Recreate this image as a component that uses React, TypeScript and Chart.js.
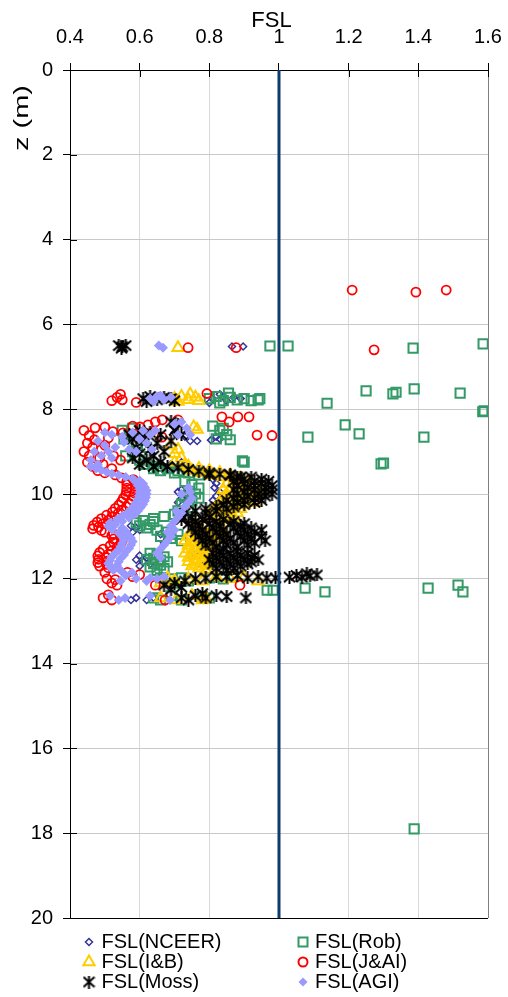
import React, { useEffect, useRef } from "react";
import { Chart, registerables } from "chart.js";
Chart.register(...registerables);

// ---------- axis ticks ----------
const xTicks = [0.4, 0.6, 0.8, 1, 1.2, 1.4, 1.6];
const xTickLabels = ["0.4", "0.6", "0.8", "1", "1.2", "1.4", "1.6"];
const zTicks = [0, 2, 4, 6, 8, 10, 12, 14, 16, 18, 20];
const zTickLabels = ["0", "2", "4", "6", "8", "10", "12", "14", "16", "18", "20"];
const xTitle = "FSL";
const zTitle = "z (m)";

// ---------- series names ----------
const seriesNames = ["FSL(NCEER)", "FSL(Rob)", "FSL(I&B)", "FSL(J&AI)", "FSL(Moss)", "FSL(AGI)"];

// ---------- limit line FSL = 1 ----------
const limitLine = [[1, 0], [1, 20]];

// ---------- series values [FSL, z] ----------
const nceer = [
  [0.865, 6.52], [0.897, 6.52], [0.81, 7.75], [0.83, 7.65], [0.85, 7.8], [0.87, 7.72], [0.89, 7.75], [0.8, 7.85], [0.84, 7.7],
  [0.805, 8.73], [0.83, 8.7], [0.82, 8.65], [0.7, 8.55], [0.73, 8.65], [0.745, 8.75], [0.765, 8.75],
  [0.69, 9.3], [0.71, 9.35], [0.73, 9.4], [0.72, 9.25], [0.67, 9.45],
  [0.81, 9.65], [0.82, 9.75], [0.815, 9.85], [0.83, 9.95], [0.82, 10.05], [0.81, 10.15], [0.825, 10.25], [0.815, 10.35],
  [0.71, 9.95], [0.73, 10.0], [0.75, 10.05], [0.72, 10.1], [0.74, 10.15], [0.71, 10.2], [0.73, 10.3], [0.72, 9.9],
  [0.575, 10.75], [0.59, 10.8], [0.6, 10.85], [0.58, 10.9], [0.66, 10.95], [0.68, 11.05], [0.67, 11.15],
  [0.6, 11.45], [0.62, 11.5], [0.61, 11.6], [0.6, 11.7], [0.59, 11.55], [0.63, 11.65],
  [0.76, 11.3], [0.77, 11.45], [0.76, 11.6], [0.78, 11.7], [0.75, 11.5],
  [0.59, 12.45], [0.62, 12.5], [0.64, 12.45], [0.575, 12.5],
];

const rob = [
  [0.974, 6.51], [1.026, 6.51], [1.385, 6.56], [1.586, 6.46], [1.25, 7.57], [1.336, 7.6], [1.327, 7.64], [1.388, 7.52],
  [1.52, 7.62], [1.138, 7.86], [1.589, 8.04], [1.585, 8.06], [1.19, 8.37], [1.23, 8.58], [1.083, 8.66], [1.416, 8.66],
  [1.3, 9.27], [1.293, 9.29], [0.966, 12.27], [0.983, 12.27], [1.075, 12.22], [1.132, 12.31], [1.428, 12.22],
  [1.514, 12.15], [1.528, 12.31], [1.388, 17.9],
  [0.8, 7.75], [0.82, 7.7], [0.84, 7.8], [0.86, 7.72], [0.88, 7.78], [0.9, 7.75], [0.92, 7.8], [0.94, 7.78], [0.855, 7.62], [0.83, 7.85], [0.945, 7.75],
  [0.81, 8.4], [0.83, 8.5], [0.85, 8.6], [0.82, 8.7], [0.84, 8.45], [0.86, 8.72], [0.9, 9.25], [0.895, 9.22],
  [0.55, 8.5], [0.57, 8.6], [0.59, 8.8], [0.58, 9.0], [0.6, 9.2], [0.56, 9.1], [0.58, 8.45], [0.62, 8.9], [0.555, 8.7], [0.61, 9.3],
  [0.62, 9.3], [0.65, 9.35], [0.68, 9.4], [0.71, 9.45], [0.74, 9.5], [0.77, 9.55], [0.66, 9.45], [0.7, 9.5], [0.64, 9.4],
  [0.73, 9.7], [0.75, 9.78], [0.77, 9.86], [0.74, 9.94], [0.76, 10.0], [0.73, 10.08], [0.75, 10.16], [0.72, 10.24], [0.74, 10.32], [0.71, 10.4], [0.77, 10.1],
  [0.7, 10.48], [0.67, 10.53], [0.64, 10.58], [0.61, 10.63], [0.59, 10.68], [0.6, 10.75], [0.63, 10.72], [0.62, 10.8], [0.65, 10.85],
  [0.68, 10.9], [0.71, 10.95], [0.66, 11.0], [0.69, 11.05], [0.72, 11.1], [0.64, 10.65],
  [0.63, 11.4], [0.65, 11.44], [0.67, 11.48], [0.64, 11.52], [0.66, 11.56], [0.68, 11.6], [0.64, 11.64], [0.66, 11.68], [0.63, 11.72], [0.67, 11.76], [0.65, 11.8], [0.62, 11.55],
  [0.66, 11.98], [0.69, 12.0], [0.72, 11.98], [0.7, 12.1], [0.74, 12.05], [0.8, 11.98], [0.84, 12.0], [0.87, 11.95],
  [0.64, 12.45], [0.69, 12.4], [0.78, 12.42], [0.8, 12.45], [0.72, 12.5], [0.66, 12.5],
];

const ib = [
  [0.71, 6.55],
  [0.7, 7.75], [0.72, 7.7], [0.74, 7.78], [0.76, 7.72], [0.77, 7.8], [0.71, 7.82], [0.745, 7.65],
  [0.755, 8.42], [0.765, 8.48],
  [0.69, 8.85], [0.71, 8.95], [0.7, 9.05], [0.72, 9.15], [0.7, 9.25], [0.73, 9.3],
  [0.74, 9.35], [0.77, 9.4], [0.8, 9.45], [0.83, 9.5], [0.86, 9.55], [0.89, 9.62], [0.91, 9.7], [0.78, 9.5], [0.81, 9.55], [0.84, 9.6], [0.75, 9.45],
  [0.87, 9.7], [0.85, 9.75], [0.9, 9.75], [0.88, 9.8], [0.93, 9.8], [0.86, 9.85], [0.91, 9.85], [0.95, 9.85], [0.84, 9.9], [0.89, 9.9],
  [0.87, 9.95], [0.92, 9.95], [0.85, 10.0], [0.9, 10.0], [0.94, 10.0], [0.88, 10.05], [0.93, 10.05], [0.84, 10.1], [0.89, 10.1],
  [0.86, 10.15], [0.91, 10.15], [0.83, 10.2], [0.88, 10.2], [0.93, 10.2], [0.85, 10.25], [0.9, 10.25], [0.82, 10.3], [0.87, 10.3],
  [0.84, 10.35], [0.89, 10.35], [0.81, 10.4], [0.86, 10.4], [0.83, 10.45], [0.88, 10.45], [0.8, 10.5], [0.85, 10.5], [0.82, 10.55], [0.87, 10.55], [0.84, 10.6],
  [0.76, 10.7], [0.79, 10.75], [0.76, 10.8], [0.82, 10.8], [0.78, 10.85], [0.84, 10.85], [0.75, 10.9], [0.81, 10.9], [0.77, 10.95], [0.83, 10.95],
  [0.74, 11.0], [0.8, 11.0], [0.76, 11.05], [0.82, 11.05], [0.73, 11.1], [0.79, 11.1], [0.75, 11.15], [0.81, 11.15], [0.74, 11.2], [0.78, 11.2],
  [0.76, 11.25], [0.8, 11.25], [0.74, 11.3], [0.78, 11.3], [0.76, 11.35], [0.8, 11.35], [0.73, 11.4], [0.77, 11.4], [0.75, 11.45], [0.79, 11.45],
  [0.74, 11.5], [0.78, 11.5], [0.76, 11.55], [0.8, 11.55], [0.74, 11.6], [0.78, 11.6], [0.76, 11.65], [0.8, 11.65], [0.75, 11.7], [0.79, 11.7], [0.77, 11.75], [0.79, 11.8],
  [0.66, 12.1], [0.7, 12.05], [0.74, 12.0], [0.78, 12.05], [0.82, 11.95], [0.86, 12.0], [0.9, 11.95], [0.94, 12.05], [0.68, 11.98],
  [0.66, 12.45], [0.705, 12.5], [0.75, 12.4], [0.78, 12.5], [0.79, 12.45],
];

const jai = [
  [1.21, 5.19], [1.393, 5.24], [1.48, 5.19], [1.273, 6.6], [0.739, 6.55], [0.877, 6.55],
  [0.52, 7.8], [0.535, 7.72], [0.55, 7.78], [0.545, 7.65], [0.59, 7.84], [0.793, 7.63],
  [0.836, 8.18], [0.857, 8.3], [0.882, 8.18], [0.914, 8.18], [0.937, 8.61], [0.98, 8.62],
  [0.472, 8.44], [0.5, 8.42], [0.523, 8.53], [0.552, 8.56], [0.601, 8.42], [0.624, 8.37], [0.665, 8.25], [0.71, 8.25], [0.664, 8.66], [0.645, 8.3], [0.58, 8.4],
  [0.44, 8.5], [0.455, 8.62], [0.47, 8.72], [0.45, 8.8], [0.465, 8.9], [0.49, 8.95], [0.44, 9.0], [0.455, 9.1], [0.485, 9.15], [0.45, 9.25],
  [0.465, 9.35], [0.495, 9.3], [0.51, 8.68], [0.525, 9.1], [0.545, 9.2], [0.5, 8.85], [0.52, 9.4], [0.48, 9.45], [0.5, 9.5], [0.53, 9.55],
  [0.548, 9.62], [0.582, 9.66], [0.563, 9.7], [0.588, 9.74], [0.563, 9.78], [0.588, 9.82], [0.563, 9.86], [0.588, 9.9], [0.562, 9.94], [0.586, 9.98],
  [0.56, 10.02], [0.582, 10.06], [0.553, 10.1], [0.578, 10.14], [0.548, 10.18], [0.57, 10.22], [0.54, 10.26], [0.562, 10.3], [0.53, 10.34], [0.548, 10.38],
  [0.522, 10.42], [0.538, 10.46], [0.505, 10.5], [0.52, 10.54], [0.49, 10.58], [0.51, 10.62], [0.478, 10.66], [0.495, 10.7], [0.468, 10.74], [0.482, 10.78],
  [0.465, 10.82], [0.49, 10.86], [0.5, 10.9], [0.525, 10.94], [0.52, 10.98], [0.545, 11.02], [0.525, 11.06], [0.55, 11.1], [0.525, 11.14], [0.545, 11.18],
  [0.515, 11.22], [0.535, 11.26], [0.495, 11.3], [0.52, 11.34], [0.485, 11.38], [0.51, 11.42], [0.48, 11.46], [0.505, 11.5], [0.482, 11.54], [0.508, 11.58],
  [0.48, 11.62], [0.505, 11.66], [0.485, 11.7], [0.51, 11.74],
  [0.506, 12.0], [0.52, 12.1], [0.535, 12.15], [0.565, 11.85], [0.58, 11.95], [0.6, 11.9], [0.645, 12.15], [0.673, 12.5], [0.888, 12.15],
  [0.495, 12.45], [0.52, 12.5], [0.51, 12.38], [0.53, 12.02], [0.5, 11.85],
];

const moss = [
  [0.54, 6.5], [0.55, 6.53], [0.56, 6.5], [0.548, 6.56],
  [0.61, 7.75], [0.63, 7.7], [0.65, 7.78], [0.67, 7.72], [0.69, 7.75], [0.7, 7.8], [0.62, 7.82],
  [0.69, 8.3], [0.71, 8.35], [0.7, 8.5], [0.72, 8.6], [0.69, 8.75],
  [0.6, 8.5], [0.63, 8.55], [0.66, 8.6], [0.58, 8.7], [0.62, 8.75], [0.65, 8.8], [0.59, 8.9], [0.63, 8.95], [0.67, 9.0], [0.6, 9.05],
  [0.64, 9.1], [0.62, 9.2], [0.66, 9.25], [0.6, 9.3], [0.64, 9.35], [0.58, 9.15], [0.57, 8.6], [0.61, 8.65],
  [0.68, 9.35], [0.71, 9.38], [0.74, 9.42], [0.77, 9.46], [0.8, 9.5], [0.83, 9.53], [0.86, 9.56], [0.89, 9.6],
  [0.8, 9.55], [0.86, 9.55], [0.88, 9.6], [0.92, 9.6], [0.9, 9.65], [0.95, 9.65], [0.87, 9.7], [0.93, 9.7], [0.97, 9.7], [0.9, 9.75], [0.95, 9.75],
  [0.88, 9.8], [0.93, 9.8], [0.98, 9.8], [0.91, 9.85], [0.96, 9.85], [0.87, 9.9], [0.93, 9.9], [0.98, 9.9], [0.9, 9.95], [0.96, 9.95],
  [0.88, 10.0], [0.94, 10.0], [0.98, 10.0], [0.91, 10.05], [0.96, 10.05], [0.87, 10.1], [0.93, 10.1], [0.85, 10.15], [0.9, 10.15], [0.95, 10.15],
  [0.88, 10.2], [0.93, 10.2], [0.84, 10.25], [0.9, 10.25], [0.82, 10.3], [0.87, 10.3], [0.79, 10.35], [0.85, 10.35], [0.76, 10.4], [0.82, 10.4],
  [0.73, 10.45], [0.79, 10.45], [0.72, 10.5],
  [0.75, 10.55], [0.8, 10.55], [0.72, 10.6], [0.78, 10.6], [0.84, 10.6], [0.76, 10.65], [0.82, 10.65], [0.87, 10.65],
  [0.74, 10.7], [0.8, 10.7], [0.86, 10.7], [0.9, 10.7], [0.77, 10.75], [0.83, 10.75], [0.89, 10.75],
  [0.75, 10.8], [0.81, 10.8], [0.87, 10.8], [0.92, 10.8], [0.78, 10.85], [0.84, 10.85], [0.9, 10.85], [0.95, 10.85],
  [0.76, 10.9], [0.82, 10.9], [0.88, 10.9], [0.93, 10.9], [0.79, 10.95], [0.85, 10.95], [0.91, 10.95],
  [0.77, 11.0], [0.83, 11.0], [0.89, 11.0], [0.95, 11.0], [0.8, 11.05], [0.86, 11.05], [0.92, 11.05],
  [0.78, 11.1], [0.84, 11.1], [0.9, 11.1], [0.96, 11.1], [0.81, 11.15], [0.87, 11.15], [0.93, 11.15],
  [0.79, 11.2], [0.85, 11.2], [0.91, 11.2], [0.82, 11.25], [0.88, 11.25], [0.84, 11.3],
  [0.83, 11.35], [0.88, 11.35], [0.81, 11.4], [0.86, 11.4], [0.91, 11.4], [0.84, 11.45], [0.89, 11.45], [0.93, 11.45],
  [0.82, 11.5], [0.87, 11.5], [0.92, 11.5], [0.8, 11.55], [0.85, 11.55], [0.9, 11.55], [0.94, 11.55],
  [0.83, 11.6], [0.88, 11.6], [0.92, 11.6], [0.81, 11.65], [0.86, 11.65], [0.91, 11.65], [0.84, 11.7], [0.89, 11.7], [0.82, 11.75], [0.87, 11.75], [0.85, 11.8],
  [0.67, 12.15], [0.7, 12.1], [0.73, 12.05], [0.76, 12.0], [0.79, 11.98], [0.82, 11.95], [0.85, 11.95], [0.88, 11.92], [0.91, 11.98], [0.94, 11.95],
  [0.965, 11.98], [0.99, 11.98], [1.03, 11.96], [1.066, 11.96], [1.089, 11.93], [1.109, 11.91], [1.08, 11.88], [1.05, 11.92], [0.72, 12.2], [0.69, 12.25],
  [0.72, 12.45], [0.76, 12.4], [0.79, 12.45], [0.82, 12.4], [0.85, 12.42], [0.905, 12.45], [0.74, 12.5], [0.78, 12.35],
];

const agi = [
  [0.667, 6.55], [0.655, 6.5],
  [0.63, 7.75], [0.65, 7.7], [0.67, 7.78], [0.69, 7.72], [0.64, 7.82], [0.66, 7.68],
  [0.7, 8.35], [0.72, 8.3], [0.735, 8.45], [0.745, 8.6], [0.71, 8.6],
  [0.5, 8.55], [0.52, 8.6], [0.55, 8.65], [0.58, 8.55], [0.61, 8.5], [0.63, 8.6], [0.645, 8.5], [0.48, 8.75], [0.5, 8.85], [0.53, 8.9],
  [0.47, 9.0], [0.49, 9.1], [0.52, 9.15], [0.46, 9.2], [0.48, 9.3], [0.6, 8.7], [0.62, 8.8], [0.59, 9.0], [0.57, 8.95], [0.555, 8.78], [0.635, 8.95], [0.51, 9.0],
  [0.46, 9.35], [0.475, 9.4], [0.49, 9.44], [0.505, 9.48], [0.52, 9.52], [0.54, 9.56], [0.56, 9.6], [0.58, 9.64], [0.6, 9.68],
  [0.59, 9.72], [0.61, 9.76], [0.595, 9.8], [0.615, 9.84], [0.6, 9.88], [0.62, 9.92], [0.6, 9.96], [0.62, 10.0], [0.598, 10.04], [0.618, 10.08],
  [0.595, 10.12], [0.615, 10.16], [0.59, 10.2], [0.61, 10.24], [0.585, 10.28], [0.603, 10.32], [0.575, 10.36], [0.595, 10.4], [0.565, 10.44], [0.585, 10.48],
  [0.55, 10.52], [0.57, 10.56], [0.535, 10.6], [0.55, 10.64], [0.515, 10.68], [0.53, 10.72], [0.51, 10.76], [0.55, 10.8], [0.52, 10.84], [0.56, 10.88],
  [0.54, 10.92], [0.565, 10.96], [0.55, 11.0], [0.575, 11.04], [0.555, 11.08], [0.58, 11.12], [0.55, 11.16], [0.575, 11.2], [0.545, 11.24], [0.57, 11.28],
  [0.54, 11.32], [0.56, 11.36], [0.53, 11.4], [0.555, 11.44], [0.52, 11.48], [0.545, 11.52], [0.515, 11.56], [0.54, 11.6], [0.51, 11.64], [0.535, 11.68],
  [0.515, 11.72], [0.54, 11.76], [0.525, 11.8], [0.55, 11.84],
  [0.56, 11.92], [0.578, 11.85], [0.59, 12.0], [0.62, 12.05], [0.63, 11.98], [0.65, 12.0], [0.67, 11.95], [0.545, 12.05],
  [0.515, 12.4], [0.558, 12.45], [0.687, 12.5], [0.63, 12.4], [0.54, 12.5],
  [0.74, 9.85], [0.745, 9.95], [0.75, 10.1], [0.74, 10.2], [0.73, 10.3], [0.72, 10.45], [0.71, 10.55], [0.7, 10.65], [0.69, 10.75], [0.7, 10.85],
  [0.69, 11.0], [0.68, 11.1], [0.67, 11.2], [0.66, 11.3], [0.65, 11.4], [0.66, 11.5], [0.72, 10.0], [0.705, 10.4], [0.68, 10.9],
];

const FONT = "'Liberation Sans', Arial, sans-serif";
const COLORS = {
  nceer: "#333399",
  rob: "#339966",
  ib: "#ffcc00",
  jai: "#ff0000",
  moss: "#000000",
  agi: "#9999ff",
  limit: "#0b3b6f",
};

function makeAsterisk(size: number, lw: number, color: string) {
  const c = document.createElement("canvas");
  c.width = size;
  c.height = size;
  const g = c.getContext("2d")!;
  g.strokeStyle = color;
  g.lineWidth = lw;
  g.beginPath();
  g.moveTo(1, 1.5);
  g.lineTo(size - 1, size - 1.5);
  g.moveTo(size - 1, 1.5);
  g.lineTo(1, size - 1.5);
  g.moveTo(size / 2, 0);
  g.lineTo(size / 2, size);
  g.stroke();
  return c;
}

const toPts = (a: number[][]) => a.map(([x, y]) => ({ x, y }));

export default function App() {
  const ref = useRef<HTMLCanvasElement>(null);

  useEffect(() => {
    const canvas = ref.current;
    if (!canvas) return;
    const star = makeAsterisk(13, 2, COLORS.moss);

    const drawMarker = (ctx: CanvasRenderingContext2D, kind: string, x: number, y: number) => {
      ctx.save();
      ctx.beginPath();
      if (kind === "nceer") {
        const r = 3.5;
        ctx.moveTo(x, y - r); ctx.lineTo(x + r, y); ctx.lineTo(x, y + r); ctx.lineTo(x - r, y); ctx.closePath();
        ctx.strokeStyle = COLORS.nceer; ctx.lineWidth = 1.5; ctx.stroke();
      } else if (kind === "ib") {
        const r = 6.5;
        ctx.moveTo(x, y - r);
        ctx.lineTo(x + r * Math.sin((2 * Math.PI) / 3), y - r * Math.cos((2 * Math.PI) / 3));
        ctx.lineTo(x + r * Math.sin((4 * Math.PI) / 3), y - r * Math.cos((4 * Math.PI) / 3));
        ctx.closePath();
        ctx.strokeStyle = COLORS.ib; ctx.lineWidth = 2; ctx.stroke();
      } else if (kind === "moss") {
        ctx.drawImage(star, x - star.width / 2, y - star.height / 2);
      } else if (kind === "rob") {
        ctx.rect(x - 4.5, y - 4.5, 9, 9);
        ctx.strokeStyle = COLORS.rob; ctx.lineWidth = 2; ctx.stroke();
      } else if (kind === "jai") {
        ctx.arc(x, y, 4.5, 0, Math.PI * 2);
        ctx.strokeStyle = COLORS.jai; ctx.lineWidth = 2; ctx.stroke();
      } else if (kind === "agi") {
        const r = 4.5;
        ctx.moveTo(x, y - r); ctx.lineTo(x + r, y); ctx.lineTo(x, y + r); ctx.lineTo(x - r, y); ctx.closePath();
        ctx.fillStyle = COLORS.agi; ctx.fill();
      }
      ctx.restore();
    };

    const decorations = {
      id: "decorations",
      beforeDatasetsDraw(chart: any) {
        const ctx = chart.ctx as CanvasRenderingContext2D;
        const xs = chart.scales.x;
        const ys = chart.scales.y;
        const area = chart.chartArea;
        ctx.save();
        ctx.strokeStyle = "#000";
        ctx.lineWidth = 1;
        ctx.beginPath();
        zTicks.forEach((v) => {
          const py = Math.round(ys.getPixelForValue(v)) + 0.5;
          ctx.moveTo(area.left, py);
          ctx.lineTo(area.left + 7, py);
        });
        xTicks.forEach((v) => {
          const px = Math.round(xs.getPixelForValue(v)) + 0.5;
          ctx.moveTo(px, area.top);
          ctx.lineTo(px, area.top + 7);
        });
        ctx.stroke();
        ctx.restore();
      },
      afterDraw(chart: any) {
        const ctx = chart.ctx as CanvasRenderingContext2D;
        ctx.save();
        ctx.fillStyle = "#000";
        ctx.font = `22px ${FONT}`;
        ctx.textAlign = "center";
        ctx.textBaseline = "middle";
        ctx.fillText(xTitle, 271.5, 21);
        ctx.save();
        ctx.translate(22, 118);
        ctx.rotate(-Math.PI / 2);
        ctx.scale(1.45, 1);
        ctx.font = `20px ${FONT}`;
        ctx.fillText(zTitle, 0, 0);
        ctx.restore();
        const items = [
          { kind: "nceer", label: seriesNames[0], mx: 89, tx: 101.5, y: 942 },
          { kind: "ib", label: seriesNames[2], mx: 89, tx: 101.5, y: 962 },
          { kind: "moss", label: seriesNames[4], mx: 89, tx: 101.5, y: 982 },
          { kind: "rob", label: seriesNames[1], mx: 303, tx: 315, y: 942 },
          { kind: "jai", label: seriesNames[3], mx: 303, tx: 315, y: 962 },
          { kind: "agi", label: seriesNames[5], mx: 303, tx: 315, y: 982 },
        ];
        ctx.font = `20px ${FONT}`;
        ctx.textAlign = "left";
        ctx.textBaseline = "middle";
        items.forEach((it) => {
          drawMarker(ctx, it.kind, it.mx, it.y);
          ctx.fillStyle = "#000";
          ctx.fillText(it.label, it.tx, it.y);
        });
        ctx.restore();
      },
    };

    const chart = new Chart(canvas, {
      type: "scatter",
      data: {
        datasets: [
          {
            label: "FSL = 1",
            data: toPts(limitLine),
            showLine: true,
            borderColor: COLORS.limit,
            borderWidth: 3,
            pointRadius: 0,
            fill: false,
          },
          {
            label: seriesNames[5],
            data: toPts(agi),
            pointStyle: "rectRot",
            pointRadius: 5,
            backgroundColor: COLORS.agi,
            borderColor: COLORS.agi,
            borderWidth: 0,
          },
          {
            label: seriesNames[4],
            data: toPts(moss),
            pointStyle: star as any,
            pointRadius: 6,
            borderColor: COLORS.moss,
          },
          {
            label: seriesNames[3],
            data: toPts(jai),
            pointStyle: "circle",
            pointRadius: 4.5,
            backgroundColor: "rgba(0,0,0,0)",
            borderColor: COLORS.jai,
            borderWidth: 1.8,
          },
          {
            label: seriesNames[2],
            data: toPts(ib),
            pointStyle: "triangle",
            pointRadius: 6.5,
            backgroundColor: "rgba(0,0,0,0)",
            borderColor: COLORS.ib,
            borderWidth: 2,
          },
          {
            label: seriesNames[1],
            data: toPts(rob),
            pointStyle: "rect",
            pointRadius: 6.5,
            backgroundColor: "rgba(0,0,0,0)",
            borderColor: COLORS.rob,
            borderWidth: 2,
          },
          {
            label: seriesNames[0],
            data: toPts(nceer),
            pointStyle: "rectRot",
            pointRadius: 3.5,
            backgroundColor: "rgba(0,0,0,0)",
            borderColor: COLORS.nceer,
            borderWidth: 1.5,
          },
        ],
      },
      options: {
        responsive: false,
        animation: false,
        devicePixelRatio: 1,
        layout: { padding: { left: 0, top: 0, right: 20, bottom: 79 } },
        plugins: {
          legend: { display: false },
          tooltip: { enabled: false },
          title: { display: false },
        },
        scales: {
          x: {
            type: "linear",
            position: "top",
            min: 0.4,
            max: 1.6,
            afterBuildTicks: (s: any) => {
              s.ticks = xTicks.map((v) => ({ value: v }));
            },
            afterFit: (s: any) => {
              s.height = 70;
              s.paddingLeft = 0;
              s.paddingRight = 0;
            },
            ticks: {
              autoSkip: false,
              maxRotation: 0,
              padding: 14,
              color: "#000",
              font: { size: 20, family: FONT },
              callback: (v: any) => {
                const i = xTicks.findIndex((t) => Math.abs(t - Number(v)) < 1e-6);
                return i >= 0 ? xTickLabels[i] : "";
              },
            },
            grid: {
              color: (c: any) => (c.tick && Math.abs(c.tick.value - 1.6) < 1e-6 ? "#7f7f7f" : "#d9d9d9"),
              tickColor: "#000",
              tickLength: 7,
              lineWidth: 1,
            },
            border: { color: "#000", width: 1 },
          },
          y: {
            type: "linear",
            reverse: true,
            min: 0,
            max: 20,
            afterBuildTicks: (s: any) => {
              s.ticks = zTicks.map((v) => ({ value: v }));
            },
            afterFit: (s: any) => {
              s.width = 70;
              s.paddingTop = 0;
              s.paddingBottom = 0;
            },
            ticks: {
              autoSkip: false,
              padding: 10,
              color: "#000",
              font: { size: 20, family: FONT },
              callback: (v: any) => {
                const i = zTicks.findIndex((t) => Math.abs(t - Number(v)) < 1e-6);
                return i >= 0 ? zTickLabels[i] : "";
              },
            },
            grid: {
              color: (c: any) => (c.tick && c.tick.value === 20 ? "#000" : "#c8c8c8"),
              tickColor: "#000",
              tickLength: 7,
              lineWidth: 1,
            },
            border: { color: "#000", width: 1 },
          },
        },
      },
      plugins: [decorations],
    } as any);

    return () => chart.destroy();
  }, []);

  return (
    <div style={{ position: "absolute", left: 0, top: 0, width: 508, height: 997, background: "#fff" }}>
      <canvas ref={ref} width={508} height={997} style={{ display: "block", width: 508, height: 997 }} />
    </div>
  );
}
